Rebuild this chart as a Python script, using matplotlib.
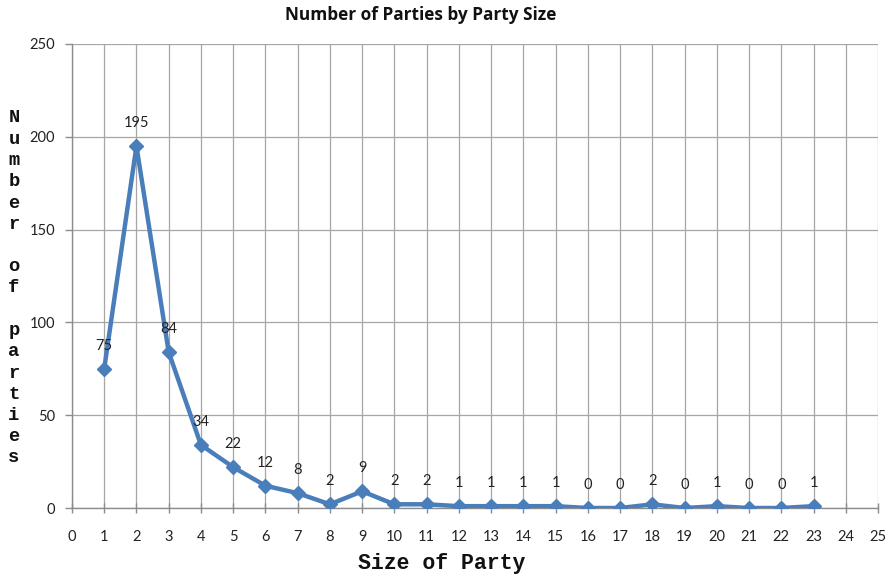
import matplotlib
matplotlib.use("Agg")
import matplotlib.pyplot as plt

party_size = list(range(1, 24))
num_parties = [75, 195, 84, 34, 22, 12, 8, 2, 9, 2, 2, 1, 1, 1, 1, 0, 0, 2, 0, 1, 0, 0, 1]
x_ticks = list(range(0, 26))
y_ticks = [0, 50, 100, 150, 200, 250]

title = "Number of Parties by Party Size"
x_label = "Size of Party"
y_label = "Number of parties"

fig = plt.figure(figsize=(8.95, 5.75), dpi=100)
ax = fig.add_axes([0.0804, 0.1165, 0.9006, 0.807])

line_color = "#4A7EBB"
grid_color = "#A6A6A6"

ax.plot(party_size, num_parties, color=line_color, lw=3.2, marker="D", ms=7,
        markerfacecolor=line_color, markeredgecolor=line_color, zorder=3,
        solid_joinstyle="round")

for xv, yv in zip(party_size, num_parties):
    ax.annotate(str(yv), (xv, yv), xytext=(0, 23), textcoords="offset pixels",
                ha="center", va="center", fontsize=10.5, family="Lato", color="#222222")

ax.set_xlim(0, 25)
ax.set_ylim(0, 250)
ax.set_xticks(x_ticks)
ax.set_yticks(y_ticks)
ax.grid(True, color=grid_color, lw=0.9)
ax.set_axisbelow(True)
for side in ["top", "right"]:
    ax.spines[side].set_visible(False)
for side in ["left", "bottom"]:
    ax.spines[side].set_color("#8C8C8C")
    ax.spines[side].set_linewidth(1)
ax.tick_params(axis="both", colors="#8C8C8C", labelcolor="#222222", length=5,
               width=1, labelsize=10.5, pad=7)
ax.tick_params(axis="x", direction="inout", length=7, pad=12)
for lab in ax.get_xticklabels() + ax.get_yticklabels():
    lab.set_family("Lato")

fig.text(421 / 895, 1 - 15 / 575, title, ha="center", va="center", fontsize=12.4,
         fontweight="bold", family="Open Sans", color="#111111")
fig.text(442 / 895, 1 - 563 / 575, x_label, ha="center", va="center", fontsize=15.5,
         fontweight="bold", family="Liberation Mono", color="#111111")

n = len(y_label)
y0, y1 = 575 - 118, 575 - 458
for i, ch in enumerate(y_label):
    ypix = y0 + (y1 - y0) * i / (n - 1)
    fig.text(14 / 895, ypix / 575, ch, ha="center", va="center", fontsize=13.5,
             fontweight="bold", family="Liberation Mono", color="#111111")

fig.savefig("out.png", dpi=100)
